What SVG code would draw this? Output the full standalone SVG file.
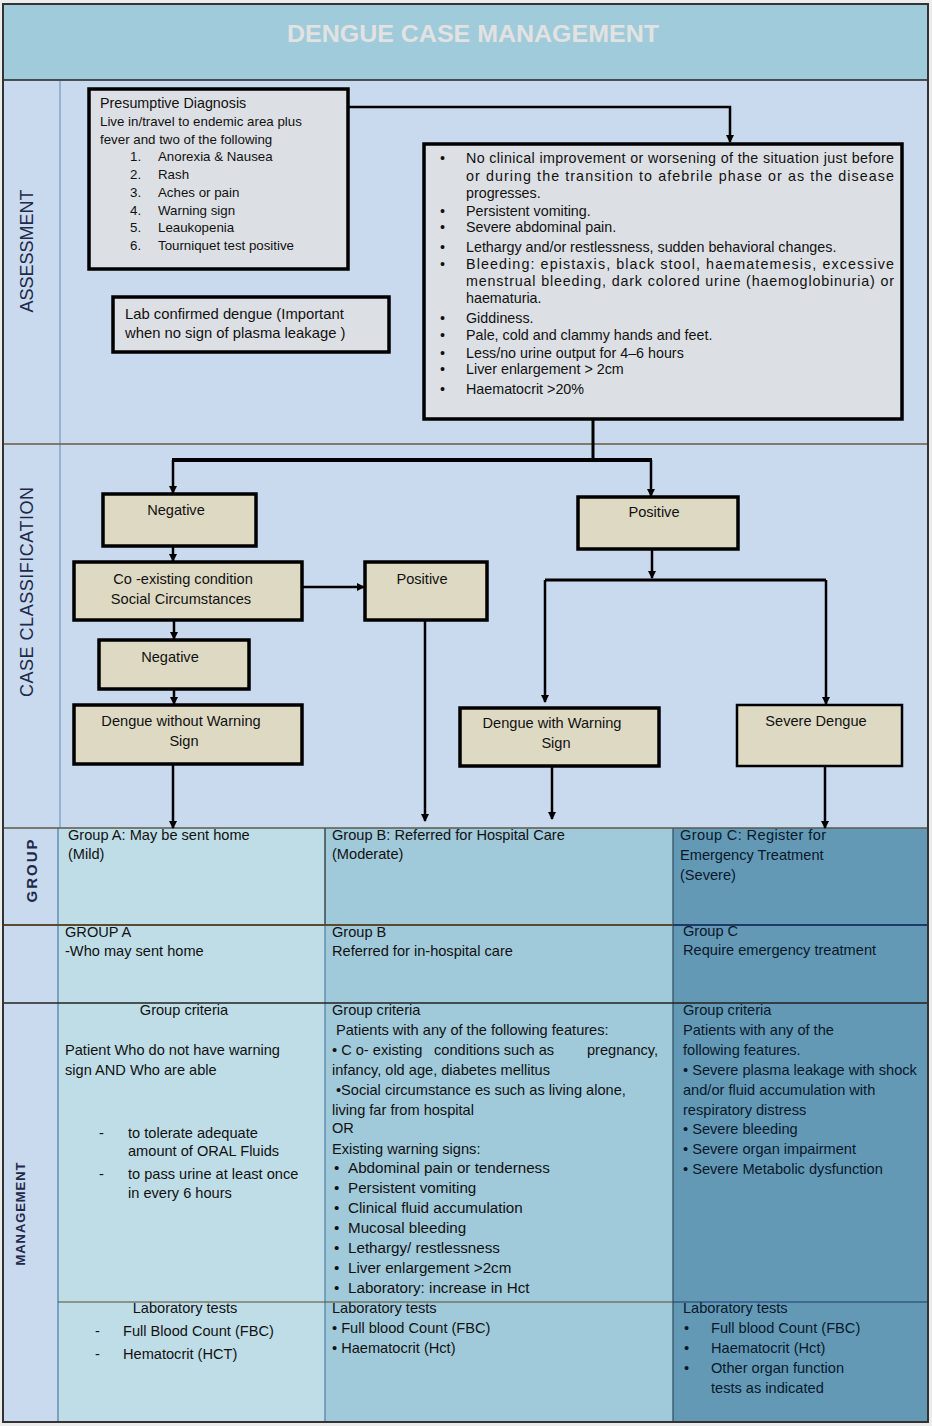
<svg xmlns="http://www.w3.org/2000/svg" width="932" height="1426" viewBox="0 0 932 1426">
<defs>
<marker id="ah" markerWidth="8" markerHeight="8" refX="7" refY="4" orient="auto" markerUnits="userSpaceOnUse">
<path d="M0,0 L8,4 L0,8 z" fill="#000"/>
</marker>
<style>
text{font-family:"Liberation Sans",Arial,sans-serif;fill:#111;}
.t12{font-size:13.3px;}
.t13{font-size:14.3px;}
.lab{font-size:14.8px;}
.rb{font-size:14.3px;}
.cl{font-size:14.6px;}
.t14{font-size:14.6px;}
.b15{font-size:15.2px;}
.g{font-size:14.6px;}
.box{fill:#dcdfe3;stroke:#000;stroke-width:3.5;}
.cls{fill:#ded9c3;stroke:#000;stroke-width:3.5;}
.c{stroke:#000;stroke-width:2.5;fill:none;}
.cm{stroke:#000;stroke-width:2.5;fill:none;marker-end:url(#ah);}
.sec{font-size:18px;fill:#1e2a4a;}
.mid{text-anchor:middle;}
.wc{fill:#08182a;}
</style>
</defs>
<rect x="0" y="0" width="932" height="1426" fill="#ececec"/>
<g id="bands">
<rect x="3" y="4" width="925" height="76" fill="#a0cbda"/>
<rect x="3" y="80" width="925" height="748" fill="#c9d9ee"/>
<rect x="3" y="828" width="56" height="594" fill="#c9d9ee"/>
<rect x="59" y="828" width="266" height="594" fill="#bedde7"/>
<rect x="325" y="828" width="348" height="594" fill="#a0c9da"/>
<rect x="673" y="828" width="255" height="594" fill="#6399b5"/>
<line x1="60" y1="81" x2="60" y2="828" stroke="#7fa6c8" stroke-width="1.5"/>
<line x1="58" y1="828" x2="58" y2="1422" stroke="#5f8fb0" stroke-width="1.5"/>
<line x1="325" y1="828" x2="325" y2="925" stroke="#222" stroke-width="1.2"/>
<line x1="325" y1="925" x2="325" y2="1422" stroke="#5f8fb0" stroke-width="1.5"/>
<line x1="673" y1="828" x2="673" y2="1422" stroke="#2f4a60" stroke-width="1.2"/>
<line x1="3" y1="80" x2="928" y2="80" stroke="#222" stroke-width="1.5"/>
<line x1="3" y1="444" x2="928" y2="444" stroke="#6b5b3e" stroke-width="1.5"/>
<line x1="3" y1="828" x2="928" y2="828" stroke="#5a5a4a" stroke-width="1.5"/>
<line x1="3" y1="925" x2="673" y2="925" stroke="#5a4a30" stroke-width="2"/>
<line x1="673" y1="925" x2="928" y2="925" stroke="#1e3a6a" stroke-width="2"/>
<line x1="3" y1="1003" x2="928" y2="1003" stroke="#222" stroke-width="1.5"/>
<line x1="58" y1="1302" x2="673" y2="1302" stroke="#5a4a30" stroke-width="1.2"/>
<line x1="673" y1="1302" x2="928" y2="1302" stroke="#1e3a6a" stroke-width="1.2"/>
<rect x="3" y="4" width="925" height="1418" fill="none" stroke="#333" stroke-width="2"/>
</g>
<g id="title">
<text x="473" y="42" class="mid" style="font-size:24px;font-weight:bold;fill:#e2e2e2" textLength="372" lengthAdjust="spacingAndGlyphs">DENGUE CASE MANAGEMENT</text>
</g>
<g id="section-labels">
<text class="sec mid" transform="translate(33,251) rotate(-90)">ASSESSMENT</text>
<text class="sec mid" transform="translate(33,592) rotate(-90)" textLength="210">CASE CLASSIFICATION</text>
<text class="mid" style="font-size:15px;font-weight:bold;fill:#1e2a4a;letter-spacing:2px" transform="translate(37,870) rotate(-90)">GROUP</text>
<text class="mid" style="font-size:13px;font-weight:bold;fill:#1e2a4a" transform="translate(25,1214) rotate(-90)" textLength="103">MANAGEMENT</text>
</g>
<g id="connectors">
<polyline class="cm" points="348,107 730,107 730,142"/>
<polyline class="c" points="593,419 593,460" style="stroke-width:3"/>
<polyline class="c" points="172,460 652,460" style="stroke-width:4"/>
<line class="cm" x1="173" y1="460" x2="173" y2="493"/>
<line class="cm" x1="651" y1="460" x2="651" y2="496"/>
<line class="cm" x1="173" y1="546" x2="173" y2="561"/>
<line class="cm" x1="302" y1="587" x2="364" y2="587"/>
<line class="cm" x1="174" y1="620" x2="174" y2="639"/>
<line class="cm" x1="174" y1="689" x2="174" y2="704"/>
<line class="cm" x1="652" y1="549" x2="652" y2="578"/>
<polyline class="c" points="545,580 826,580" style="stroke-width:3"/>
<line class="cm" x1="545" y1="580" x2="545" y2="702"/>
<line class="cm" x1="826" y1="580" x2="826" y2="704"/>
<line class="cm" x1="173" y1="764" x2="173" y2="828"/>
<line class="cm" x1="425" y1="620" x2="425" y2="821"/>
<line class="cm" x1="552" y1="766" x2="552" y2="819"/>
<line class="cm" x1="825" y1="766" x2="825" y2="828"/>
</g>
<g id="presumptive">
<rect class="box" x="89" y="89" width="259" height="180"/>
<text class="t13" x="100" y="108">Presumptive Diagnosis</text>
<text class="t12" x="100" y="126">Live in/travel to endemic area plus</text>
<text class="t12" x="100" y="144">fever and two of the following</text>
<text class="t12" x="130" y="161">1.</text><text class="t12" x="158" y="161">Anorexia &amp; Nausea</text>
<text class="t12" x="130" y="179">2.</text><text class="t12" x="158" y="179">Rash</text>
<text class="t12" x="130" y="197">3.</text><text class="t12" x="158" y="197">Aches or pain</text>
<text class="t12" x="130" y="215">4.</text><text class="t12" x="158" y="215">Warning sign</text>
<text class="t12" x="130" y="232">5.</text><text class="t12" x="158" y="232">Leaukopenia</text>
<text class="t12" x="130" y="250">6.</text><text class="t12" x="158" y="250">Tourniquet test positive</text>
</g>
<g id="lab-confirmed">
<rect class="box" x="113" y="297" width="276" height="55"/>
<text class="lab" x="125" y="319">Lab confirmed dengue (Important</text>
<text class="lab" x="125" y="338">when no sign of plasma leakage )</text>
</g>
<g id="warning-list">
<rect class="box" x="424" y="144" width="478" height="275"/>
<g class="rb">
<text x="440" y="163">•</text><text x="466" y="163" textLength="428" lengthAdjust="spacing">No clinical improvement or worsening of the situation just before</text>
<text x="466" y="181" textLength="428" lengthAdjust="spacing">or during the transition to afebrile phase or as the disease</text>
<text x="466" y="198">progresses.</text>
<text x="440" y="216">•</text><text x="466" y="216">Persistent vomiting.</text>
<text x="440" y="232">•</text><text x="466" y="232">Severe abdominal pain.</text>
<text x="440" y="252">•</text><text x="466" y="252">Lethargy and/or restlessness, sudden behavioral changes.</text>
<text x="440" y="269">•</text><text x="466" y="269" textLength="428" lengthAdjust="spacing">Bleeding: epistaxis, black stool, haematemesis, excessive</text>
<text x="466" y="286" textLength="428" lengthAdjust="spacing">menstrual bleeding, dark colored urine (haemoglobinuria) or</text>
<text x="466" y="303">haematuria.</text>
<text x="440" y="323">•</text><text x="466" y="323">Giddiness.</text>
<text x="440" y="340">•</text><text x="466" y="340">Pale, cold and clammy hands and feet.</text>
<text x="440" y="358">•</text><text x="466" y="358">Less/no urine output for 4–6 hours</text>
<text x="440" y="374">•</text><text x="466" y="374">Liver enlargement &gt; 2cm</text>
<text x="440" y="394">•</text><text x="466" y="394">Haematocrit &gt;20%</text>
</g>
</g>
<g id="negative-1"><rect class="cls" x="103" y="494" width="153" height="52"/><text class="cl mid" x="176" y="515">Negative</text></g>
<g id="positive-1"><rect class="cls" x="578" y="497" width="160" height="52"/><text class="cl mid" x="654" y="517">Positive</text></g>
<g id="coexisting"><rect class="cls" x="74" y="562" width="228" height="58"/><text class="cl mid" x="183" y="584">Co -existing condition</text><text class="cl mid" x="181" y="604">Social Circumstances</text></g>
<g id="positive-2"><rect class="cls" x="365" y="562" width="122" height="58"/><text class="cl mid" x="422" y="584">Positive</text></g>
<g id="negative-2"><rect class="cls" x="99" y="640" width="150" height="49"/><text class="cl mid" x="170" y="662">Negative</text></g>
<g id="dengue-without"><rect class="cls" x="74" y="705" width="228" height="59"/><text class="cl mid" x="181" y="726">Dengue without Warning</text><text class="cl mid" x="184" y="746">Sign</text></g>
<g id="dengue-with"><rect class="cls" x="460" y="708" width="199" height="58"/><text class="cl mid" x="552" y="728">Dengue with Warning</text><text class="cl mid" x="556" y="748">Sign</text></g>
<g id="severe-dengue"><rect class="cls" x="737" y="705" width="165" height="61" style="stroke-width:2.5"/><text class="cl mid" x="816" y="726">Severe Dengue</text></g>
<g id="group-a">
<text class="g" x="68" y="840">Group A: May be sent home</text>
<text class="g" x="68" y="859">(Mild)</text>
<text class="g" x="65" y="937">GROUP A</text>
<text class="g" x="65" y="956">-Who may sent home</text>
</g>
<g id="group-b">
<text class="g" x="332" y="840">Group B: Referred for Hospital Care</text>
<text class="g" x="332" y="859">(Moderate)</text>
<text class="g" x="332" y="937">Group B</text>
<text class="g" x="332" y="956">Referred for in-hospital care</text>
</g>
<g id="group-c">
<text class="g wc" x="680" y="840" textLength="146" lengthAdjust="spacing">Group  C:  Register  for</text>
<text class="g wc" x="680" y="860">Emergency Treatment</text>
<text class="g wc" x="680" y="880">(Severe)</text>
<text class="g wc" x="683" y="936">Group C</text>
<text class="g wc" x="683" y="955">Require emergency treatment</text>
</g>
<g id="management-a">
<text class="t14 mid" x="184" y="1015">Group criteria</text>
<text class="t14" x="65" y="1055">Patient Who do not have warning</text>
<text class="t14" x="65" y="1075">sign AND Who are able</text>
<text class="t14" x="99" y="1138">-</text><text class="t14" x="128" y="1138">to tolerate adequate</text>
<text class="t14" x="128" y="1156">amount of ORAL Fluids</text>
<text class="t14" x="99" y="1179">-</text><text class="t14" x="128" y="1179">to pass urine at least once</text>
<text class="t14" x="128" y="1198">in every 6 hours</text>
<text class="t14 mid" x="185" y="1313">Laboratory tests</text>
<text class="t14" x="95" y="1336">-</text><text class="t14" x="123" y="1336">Full Blood Count (FBC)</text>
<text class="t14" x="95" y="1359">-</text><text class="t14" x="123" y="1359">Hematocrit (HCT)</text>
</g>
<g id="management-b">
<text class="t14" x="332" y="1015">Group criteria</text>
<text class="t14" x="336" y="1035">Patients with any of the following features:</text>
<text class="t14" x="332" y="1055"><tspan x="332">• C o- existing</tspan><tspan x="434">conditions such as</tspan><tspan x="587">pregnancy,</tspan></text>
<text class="t14" x="332" y="1075">infancy, old age, diabetes mellitus</text>
<text class="t14" x="336" y="1095">•Social circumstance es such as living alone,</text>
<text class="t14" x="332" y="1115">living far from hospital</text>
<text class="t14" x="332" y="1133">OR</text>
<text class="t14" x="332" y="1154">Existing warning signs:</text>
<text class="b15" x="334" y="1173">•</text><text class="b15" x="348" y="1173">Abdominal pain or tenderness</text>
<text class="b15" x="334" y="1193">•</text><text class="b15" x="348" y="1193">Persistent vomiting</text>
<text class="b15" x="334" y="1213">•</text><text class="b15" x="348" y="1213">Clinical fluid accumulation</text>
<text class="b15" x="334" y="1233">•</text><text class="b15" x="348" y="1233">Mucosal bleeding</text>
<text class="b15" x="334" y="1253">•</text><text class="b15" x="348" y="1253">Lethargy/ restlessness</text>
<text class="b15" x="334" y="1273">•</text><text class="b15" x="348" y="1273">Liver enlargement &gt;2cm</text>
<text class="b15" x="334" y="1293">•</text><text class="b15" x="348" y="1293">Laboratory: increase in Hct</text>
<text class="t14" x="332" y="1313">Laboratory tests</text>
<text class="t14" x="332" y="1333">• Full blood Count (FBC)</text>
<text class="t14" x="332" y="1353">• Haematocrit (Hct)</text>
</g>
<g id="management-c">
<text class="t14 wc" x="683" y="1015">Group criteria</text>
<text class="t14 wc" x="683" y="1035">Patients with any of the</text>
<text class="t14 wc" x="683" y="1055">following features.</text>
<text class="t14 wc" x="683" y="1075">• Severe plasma leakage with shock</text>
<text class="t14 wc" x="683" y="1095">and/or fluid accumulation with</text>
<text class="t14 wc" x="683" y="1115">respiratory distress</text>
<text class="t14 wc" x="683" y="1134">• Severe bleeding</text>
<text class="t14 wc" x="683" y="1154">• Severe organ impairment</text>
<text class="t14 wc" x="683" y="1174">• Severe Metabolic dysfunction</text>
<text class="t14 wc" x="683" y="1313">Laboratory tests</text>
<text class="t14 wc" x="684" y="1333">•</text><text class="t14 wc" x="711" y="1333">Full blood Count (FBC)</text>
<text class="t14 wc" x="684" y="1353">•</text><text class="t14 wc" x="711" y="1353">Haematocrit (Hct)</text>
<text class="t14 wc" x="684" y="1373">•</text><text class="t14 wc" x="711" y="1373">Other organ function</text>
<text class="t14 wc" x="711" y="1393">tests as indicated</text>
</g>
</svg>
